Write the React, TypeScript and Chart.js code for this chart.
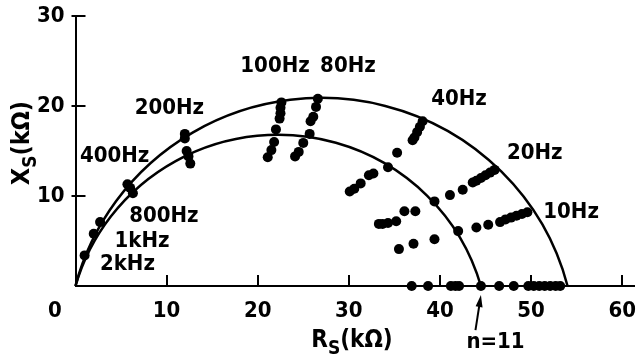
import React, { useEffect, useRef } from 'react';
import { Chart, registerables } from 'chart.js';

Chart.register(...registerables);

// Measured points: Rs (kΩ) and Xs (kΩ)
const rsValues = [
  1.0, 2.0, 2.7, 5.7, 6.0, 6.3,
  12.0, 12.0, 12.2, 12.4, 12.6,
  22.6, 22.5, 22.5, 22.4, 22.0, 21.8, 21.5, 21.1,
  26.6, 26.4, 26.1, 25.8, 25.7, 25.0, 24.5, 24.1,
  38.1, 37.8, 37.5, 37.2, 37.0, 35.3, 34.3,
  32.7, 32.2, 31.3, 30.6, 30.1,
  46.0, 45.5, 45.0, 44.5, 44.0, 43.6, 42.5, 41.1, 39.4,
  37.3, 36.1, 35.2, 34.3, 33.7, 33.3,
  49.6, 49.0, 48.4, 47.8, 47.2, 46.6, 45.3, 44.0, 42.0,
  39.4, 37.1, 35.5,
  36.9, 38.7, 41.2, 41.7, 42.1, 44.5, 46.5, 48.1, 49.7, 50.3, 50.9, 51.5, 52.1, 52.7, 53.2,
];
const xsValues = [
  3.4, 5.8, 7.1, 11.3, 10.9, 10.3,
  16.9, 16.4, 15.0, 14.4, 13.6,
  20.4, 19.8, 19.2, 18.6, 17.4, 16.0, 15.1, 14.3,
  20.8, 19.9, 18.8, 18.3, 16.9, 15.9, 14.9, 14.4,
  18.3, 17.7, 17.1, 16.5, 16.2, 14.8, 13.2,
  12.5, 12.3, 11.4, 10.8, 10.5,
  12.9, 12.6, 12.3, 12.0, 11.7, 11.5, 10.7, 10.1, 9.4,
  8.3, 8.3, 7.2, 7.0, 6.9, 6.9,
  8.2, 8.0, 7.8, 7.6, 7.4, 7.1, 6.8, 6.5, 6.1,
  5.2, 4.7, 4.1,
  0, 0, 0, 0, 0, 0, 0, 0, 0, 0, 0, 0, 0, 0, 0,
];

// Fitted semicircle arcs (outer, inner)
const arcCentersX = [27.0, 22.25];
const arcCentersY = [-7.0, -6.33];
const arcRadii = [27.9, 23.13];

const xTickValues = [10, 20, 30, 40, 50, 60];
const yTickValues = [10, 20, 30];

const annotationTexts = ['200Hz', '400Hz', '100Hz', '80Hz', '40Hz', '20Hz', '10Hz', '800Hz', '1kHz', '2kHz', 'n=11'];
const annotationX = [10.3, 4.3, 21.9, 29.9, 42.1, 50.4, 54.4, 9.7, 7.3, 5.7, 46.1];
const annotationY = [19.8, 14.4, 24.4, 24.4, 20.7, 14.7, 8.2, 7.7, 5.0, 2.4, -6.2];

const arrowFrom = [43.9, -4.9];
const arrowTo = [44.5, -1.0];

const FONT = '"DejaVu Sans Condensed", "DejaVu Sans", sans-serif';
const WEIGHT = 'bold';

const customPlugin = {
  id: 'customDraw',
  beforeDatasetsDraw(chart: any) {
    const { ctx } = chart;
    const xs = chart.scales.x;
    const ys = chart.scales.y;
    ctx.save();
    ctx.strokeStyle = '#000';
    ctx.lineWidth = 2.5;
    for (let i = 0; i < arcRadii.length; i++) {
      const cx = xs.getPixelForValue(arcCentersX[i]);
      const cy = ys.getPixelForValue(arcCentersY[i]);
      const rx = xs.getPixelForValue(arcCentersX[i] + arcRadii[i]) - cx;
      const ry = cy - ys.getPixelForValue(arcCentersY[i] + arcRadii[i]);
      const alpha = Math.asin(-arcCentersY[i] / arcRadii[i]);
      ctx.beginPath();
      ctx.ellipse(cx, cy, rx, ry, 0, -Math.PI + alpha, -alpha);
      ctx.stroke();
    }
    ctx.restore();
  },
  afterDraw(chart: any) {
    const { ctx } = chart;
    const xs = chart.scales.x;
    const ys = chart.scales.y;
    const x0 = xs.getPixelForValue(0);
    const y0 = ys.getPixelForValue(0);
    ctx.save();
    ctx.strokeStyle = '#000';
    ctx.fillStyle = '#000';
    ctx.lineWidth = 2;
    // inward ticks
    ctx.beginPath();
    for (const v of xTickValues) {
      const px = Math.round(xs.getPixelForValue(v));
      ctx.moveTo(px, y0);
      ctx.lineTo(px, y0 - 11);
    }
    for (const v of yTickValues) {
      const py = Math.round(ys.getPixelForValue(v));
      ctx.moveTo(x0 - 4, py);
      ctx.lineTo(x0 + 10, py);
    }
    ctx.stroke();

    // annotations
    ctx.font = `${WEIGHT} 22px ${FONT}`;
    ctx.textAlign = 'center';
    ctx.textBaseline = 'middle';
    for (let i = 0; i < annotationTexts.length; i++) {
      ctx.fillText(annotationTexts[i], xs.getPixelForValue(annotationX[i]), ys.getPixelForValue(annotationY[i]));
    }

    // arrow
    const ax1 = xs.getPixelForValue(arrowFrom[0]);
    const ay1 = ys.getPixelForValue(arrowFrom[1]);
    const ax2 = xs.getPixelForValue(arrowTo[0]);
    const ay2 = ys.getPixelForValue(arrowTo[1]);
    const ang = Math.atan2(ay2 - ay1, ax2 - ax1);
    ctx.beginPath();
    ctx.moveTo(ax1, ay1);
    ctx.lineTo(ax2 - Math.cos(ang) * 8, ay2 - Math.sin(ang) * 8);
    ctx.stroke();
    ctx.beginPath();
    ctx.moveTo(ax2, ay2);
    ctx.lineTo(ax2 - Math.cos(ang) * 12 + Math.sin(ang) * 3.5, ay2 - Math.sin(ang) * 12 - Math.cos(ang) * 3.5);
    ctx.lineTo(ax2 - Math.cos(ang) * 12 - Math.sin(ang) * 3.5, ay2 - Math.sin(ang) * 12 + Math.cos(ang) * 3.5);
    ctx.closePath();
    ctx.fill();

    // axis titles with subscript S
    ctx.textAlign = 'left';
    ctx.textBaseline = 'alphabetic';
    const drawTitle = (main: string, sub: string, rest: string, size: number, subSize: number, subShift: number) => {
      ctx.font = `${WEIGHT} ${size}px ${FONT}`;
      const w1 = ctx.measureText(main).width;
      const w3 = ctx.measureText(rest).width;
      ctx.font = `${WEIGHT} ${subSize}px ${FONT}`;
      const w2 = ctx.measureText(sub).width;
      const total = w1 + w2 + w3;
      let x = -total / 2;
      ctx.font = `${WEIGHT} ${size}px ${FONT}`;
      ctx.fillText(main, x, 0);
      x += w1;
      ctx.font = `${WEIGHT} ${subSize}px ${FONT}`;
      ctx.fillText(sub, x, subShift);
      x += w2;
      ctx.font = `${WEIGHT} ${size}px ${FONT}`;
      ctx.fillText(rest, x, 0);
    };
    ctx.save();
    ctx.translate(352, 347);
    drawTitle('R', 'S', '(kΩ)', 24, 19, 7);
    ctx.restore();

    ctx.save();
    ctx.translate(29, 143);
    ctx.rotate(-Math.PI / 2);
    drawTitle('X', 'S', '(kΩ)', 25, 19, 7);
    ctx.restore();

    ctx.restore();
  },
};

export default function App() {
  const ref = useRef<HTMLCanvasElement>(null);
  useEffect(() => {
    if (!ref.current) return;
    const points = rsValues.map((v, i) => ({ x: v, y: xsValues[i] }));
    const chart = new Chart(ref.current, {
      type: 'scatter',
      data: {
        datasets: [
          {
            data: points,
            backgroundColor: '#000',
            borderColor: '#000',
            pointRadius: 5,
            pointHoverRadius: 5,
            borderWidth: 0,
            clip: false as any,
          },
        ],
      },
      plugins: [customPlugin],
      options: {
        animation: false,
        responsive: false,
        events: [],
        layout: { padding: { top: 16, right: 0, left: 0, bottom: 0 } },
        plugins: { legend: { display: false }, tooltip: { enabled: false }, title: { display: false } },
        scales: {
          x: {
            type: 'linear',
            min: 0,
            max: 61.3,
            border: { display: true, color: '#000', width: 2 },
            grid: { display: false, drawTicks: false },
            ticks: {
              stepSize: 10,
              includeBounds: false,
              maxRotation: 0,
              autoSkip: false,
              padding: 12,
              color: '#000',
              font: { family: FONT, size: 22, weight: WEIGHT },
              callback: (v: any) => (Number(v) === 0 ? '0      ' : String(v)),
            },
            afterFit: (scale: any) => {
              scale.height = 71;
              scale.paddingLeft = 0;
              scale.paddingRight = 0;
            },
          },
          y: {
            type: 'linear',
            min: 0,
            max: 30,
            border: { display: true, color: '#000', width: 2 },
            grid: { display: false, drawTicks: false },
            ticks: {
              stepSize: 10,
              padding: 11,
              color: '#000',
              font: { family: FONT, size: 22, weight: WEIGHT },
              callback: (v: any) => (Number(v) === 0 ? '' : String(v)),
            },
            afterFit: (scale: any) => {
              scale.width = 75.5;
              scale.paddingTop = 0;
              scale.paddingBottom = 0;
            },
          },
        },
      },
    });
    return () => chart.destroy();
  }, []);
  return (
    <div style={{ position: 'absolute', left: 0, top: 0, width: 639, height: 357, background: '#fff' }}>
      <canvas ref={ref} width={639} height={357} style={{ display: 'block' }} />
    </div>
  );
}
